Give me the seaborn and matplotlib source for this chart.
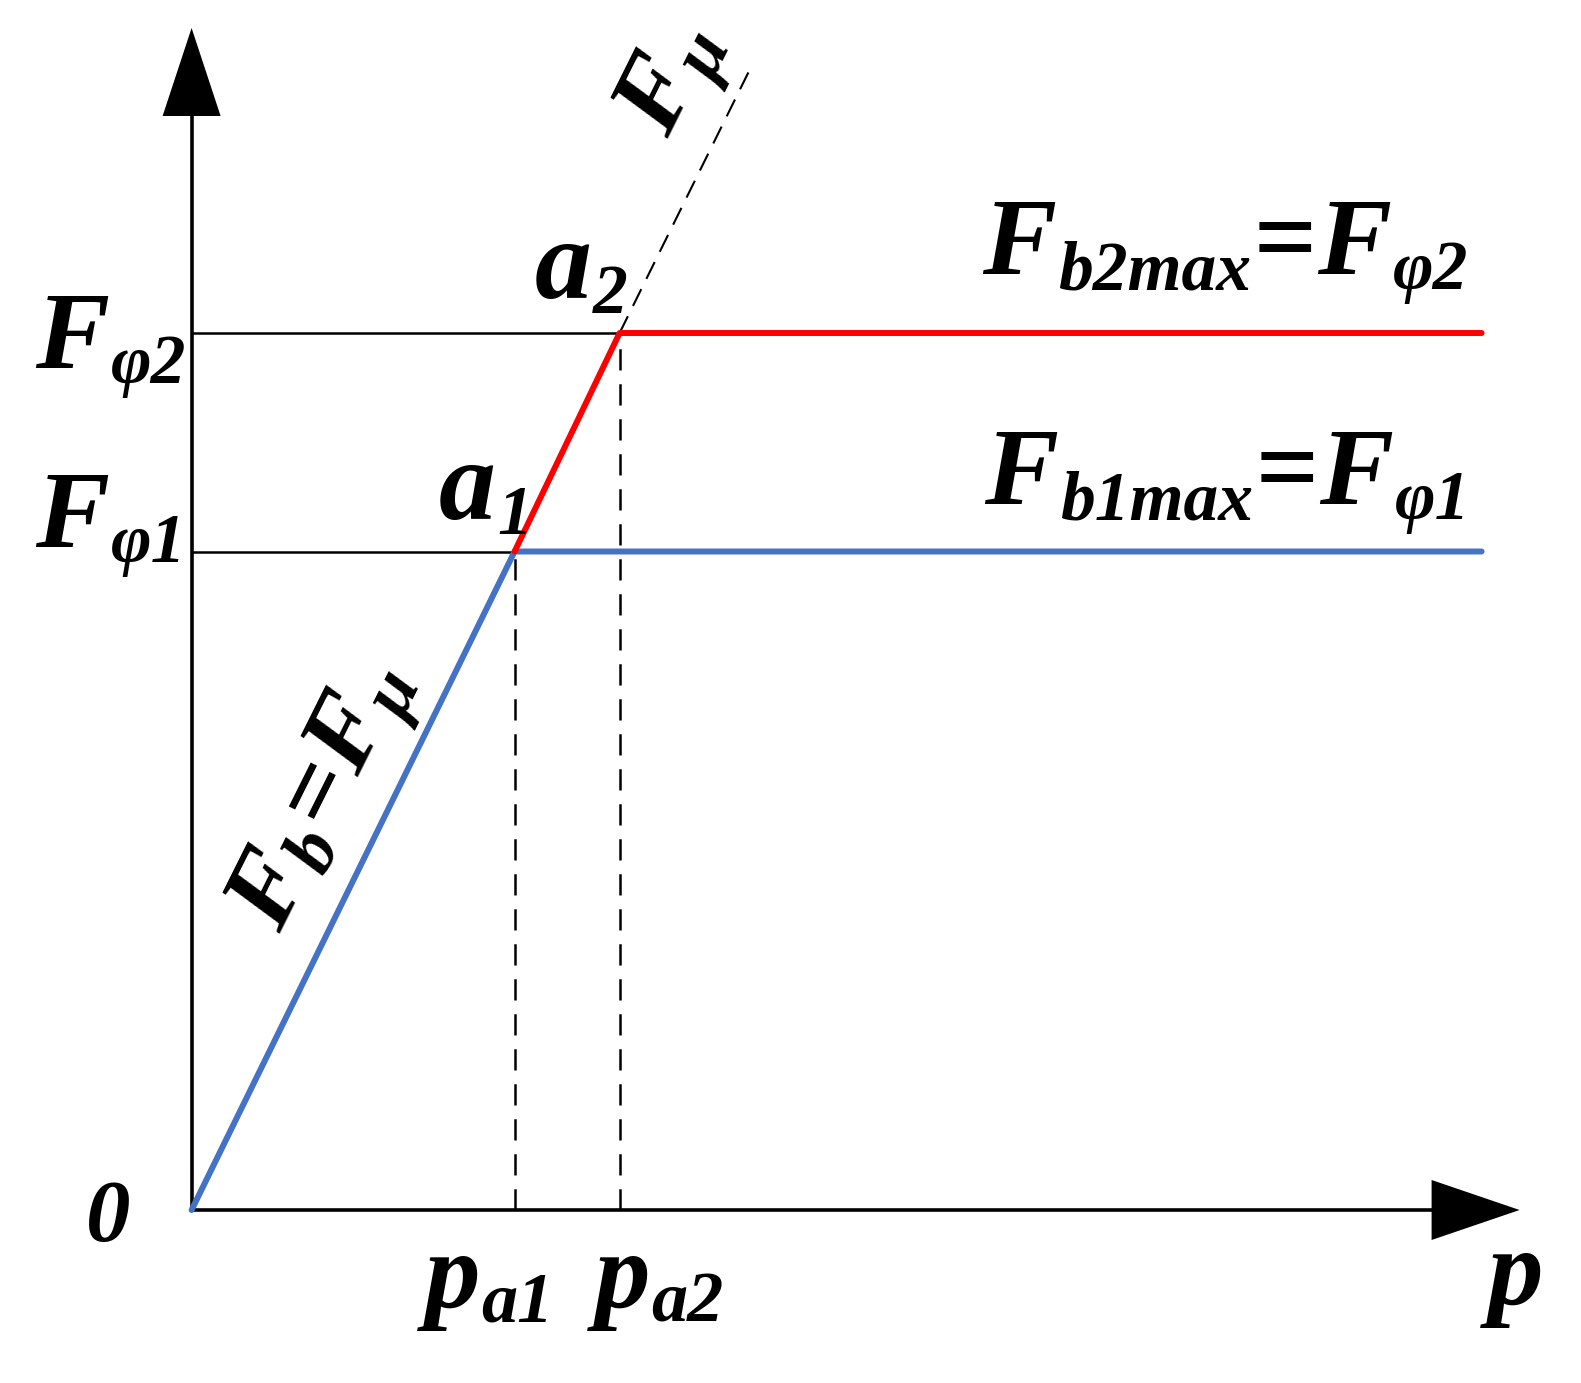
import pandas as pd
import matplotlib.pyplot as plt
import seaborn as sns

# Valores del esquema (unidades arbitrarias)
p_a1, p_a2 = 3.23, 4.28
F_phi1, F_phi2 = 6.585, 8.77
p_end = 12.90
p_axis, F_axis = 13.28, 11.82

blue_p = [0, p_a1, p_end]
blue_F = [0, F_phi1, F_phi1]
red_p = [p_a1, p_a2, p_end]
red_F = [F_phi1, F_phi2, F_phi2]
mu_p = [p_a2, 5.57]
mu_F = [F_phi2, 11.38]

sns.set_style("white")
plt.rcParams["font.family"] = ["Liberation Serif", "DejaVu Serif"]
plt.rcParams["text.color"] = "black"
plt.rcParams["mathtext.fontset"] = "custom"
plt.rcParams["mathtext.rm"] = "Liberation Serif:italic:bold"
plt.rcParams["mathtext.it"] = "Liberation Serif:italic:bold"
plt.rcParams["mathtext.bf"] = "Liberation Serif:italic:bold"

fig = plt.figure(figsize=(15.81, 13.83), dpi=100)
ax = fig.add_axes([0, 0, 1, 1])
ax.set_xlim(-1.916, 13.894)
ax.set_ylim(-1.73, 12.10)
ax.axis("off")

# Ejes con flechas
ax.plot([0, p_axis - 0.8], [0, 0], color="black", lw=2.6)
ax.plot([0, 0], [0, F_axis - 0.8], color="black", lw=2.6)
ax.arrow(0, 0, p_axis, 0, width=0, head_width=0.60, head_length=0.88,
         length_includes_head=True, fc="black", ec="black", lw=0)
ax.arrow(0, 0, 0, F_axis, width=0, head_width=0.58, head_length=0.88,
         length_includes_head=True, fc="black", ec="black", lw=0)

# Líneas de referencia
ax.plot([0, p_a1], [F_phi1, F_phi1], color="black", lw=1.8)
ax.plot([0, p_a2], [F_phi2, F_phi2], color="black", lw=1.8)
dash = (0, (8.5, 5.5))
ax.plot([p_a1, p_a1], [0, F_phi1], color="black", lw=1.8, linestyle=dash)
ax.plot([p_a2, p_a2], [0, F_phi2], color="black", lw=1.8, linestyle=dash)

# Curvas
sns.lineplot(x=mu_p, y=mu_F, ax=ax, color="black", lw=1.5, linestyle=(0, (9, 5.5)),
             sort=False, estimator=None)
sns.lineplot(x=blue_p, y=blue_F, ax=ax, color="#4472C4", lw=4.3,
             sort=False, estimator=None, solid_capstyle="round")
sns.lineplot(x=red_p, y=red_F, ax=ax, color="#FF0000", lw=4.3,
             sort=False, estimator=None, solid_capstyle="round")

font = dict(family="Liberation Serif", weight="bold", style="italic", color="black")


def formula(x, y, parts, main=80, sub=50, drop=11):
    # parts: lista de (texto, es_subindice)
    prev = None
    for txt, is_sub in parts:
        size = sub if is_sub else main
        dy = -drop if is_sub else 0
        if prev is None:
            prev = ax.text(x, y, txt, fontsize=size, ha="left", va="baseline", **font)
        else:
            prev = ax.annotate(txt, xy=(1, y), xycoords=(prev, "data"),
                               xytext=(1, dy), textcoords="offset points",
                               fontsize=size, ha="left", va="baseline", **font)


# Etiquetas
formula(-1.56, 8.42, [("F", False), ("φ2", True)])
formula(-1.56, 6.63, [("F", False), ("φ1", True)])
formula(7.91, 9.36, [("F", False), ("b2max", True), ("=", False), ("F", False), ("φ2", True)])
formula(7.93, 7.06, [("F", False), ("b1max", True), ("=", False), ("F", False), ("φ1", True)])
formula(3.43, 9.12, [("a", False), ("2", True)], main=82, sub=50)
formula(2.47, 6.91, [("a", False), ("1", True)], main=82, sub=50)
formula(2.33, -0.98, [("p", False), ("a1", True)], main=80, sub=52, drop=10)
formula(4.03, -0.98, [("p", False), ("a2", True)], main=80, sub=52, drop=10)
ax.text(12.96, -0.95, "p", fontsize=80, ha="left", va="baseline", **font)
ax.text(-0.83, -0.10, "0", fontsize=64, ha="center", va="center", **font)

ax.text(1.36, 4.13, r"$F_{b}\!=\!F_{μ}$", fontsize=76, ha="center", va="center",
        rotation=63.5, rotation_mode="anchor")
ax.text(4.84, 11.29, r"$F_{μ}$", fontsize=76, ha="center", va="center",
        rotation=63.5, rotation_mode="anchor")

fig.savefig("out.png", dpi=100)
